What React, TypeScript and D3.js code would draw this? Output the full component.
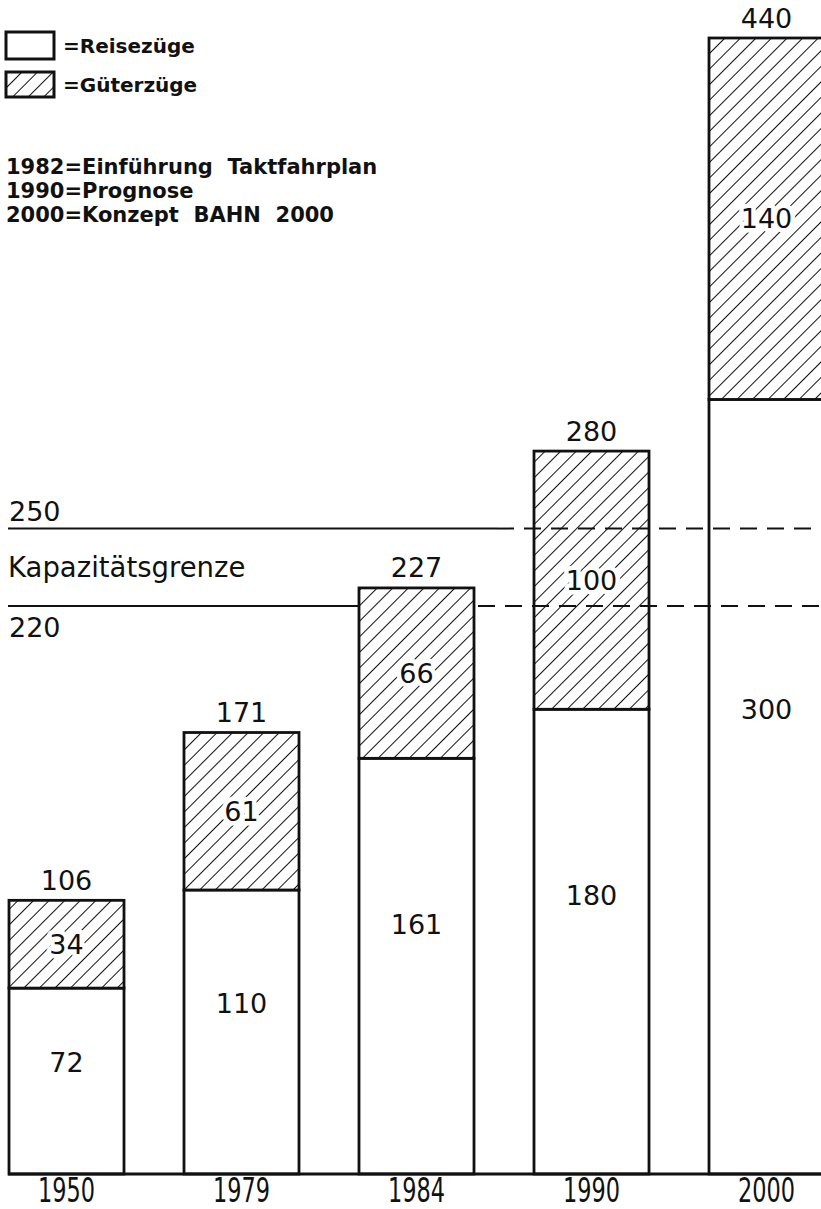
import React from "react";
import * as d3 from "d3";

const years = ["1950", "1979", "1984", "1990", "2000"];
const reisezuege = [72, 110, 161, 180, 300];
const gueterzuege = [34, 61, 66, 100, 140];
const totals = [106, 171, 227, 280, 440];
const capacityLines = [250, 220];
const legendNotes = [
  "1982=Einführung  Taktfahrplan",
  "1990=Prognose",
  "2000=Konzept  BAHN  2000",
];

const W = 821;
const H = 1209;
const FONT = "'DejaVu Sans', sans-serif";

export default function App() {
  const x = d3.scaleBand<string>().domain(years).range([9, 824]).paddingInner(60 / 175).paddingOuter(0);
  const y = d3.scaleLinear().domain([0, 440]).range([1174, 38]);
  const bw = x.bandwidth();

  const stack = d3.stack<number>().keys(["r", "g"]).value((i, k) => (k === "r" ? reisezuege[i] : gueterzuege[i]));
  const series = stack(years.map((_, i) => i));

  const lbl = (t: string, cx: number, cy: number, halo = false) => (
    <text
      x={cx}
      y={cy}
      textAnchor="middle"
      dominantBaseline="central"
      fontFamily={FONT}
      fontSize={27}
      fill="#111"
      stroke={halo ? "#fff" : "none"}
      strokeWidth={halo ? 9 : 0}
      paintOrder="stroke"
      strokeLinejoin="round"
    >
      {t}
    </text>
  );

  const y250 = y(capacityLines[0]);
  const y220 = y(capacityLines[1]);

  return (
    <svg width={W} height={H} style={{ position: "absolute", left: 0, top: 0, background: "#fff" }}>
      <defs>
        <pattern id="hatch" patternUnits="userSpaceOnUse" width={11} height={11} patternTransform="rotate(45)">
          <rect width={11} height={11} fill="#fff" />
          <line x1={0} y1={0} x2={0} y2={11} stroke="#111" strokeWidth={2} />
        </pattern>
      </defs>
      <rect width={W} height={H} fill="#fff" />

      {/* legend */}
      <rect x={6} y={32} width={48} height={27} fill="#fff" stroke="#111" strokeWidth={3} />
      <text x={63} y={53} fontFamily={FONT} fontWeight="bold" fontSize={20} fill="#111">=Reisezüge</text>
      <rect x={6} y={72} width={48} height={25} fill="url(#hatch)" stroke="#111" strokeWidth={3} />
      <text x={63} y={92} fontFamily={FONT} fontWeight="bold" fontSize={20} fill="#111">=Güterzüge</text>
      {legendNotes.map((t, i) => (
        <text key={t} x={6} y={174 + i * 24} fontFamily={FONT} fontWeight="bold" fontSize={21} fill="#111" style={{ whiteSpace: "pre" }}>
          {t}
        </text>
      ))}

      {/* capacity lines */}
      <line x1={8} x2={497} y1={y250} y2={y250} stroke="#111" strokeWidth={2} />
      <line x1={8} x2={362} y1={y220} y2={y220} stroke="#111" strokeWidth={2} />
      <text x={9} y={y250 - 8} fontFamily={FONT} fontSize={27} fill="#111">{capacityLines[0]}</text>
      <text x={8} y={(y250 + y220) / 2 + 10} fontFamily={FONT} fontSize={27.5} fill="#111">Kapazitätsgrenze</text>
      <text x={9} y={y220 + 31} fontFamily={FONT} fontSize={27} fill="#111">{capacityLines[1]}</text>

      {/* bars */}
      {years.map((yr, i) => {
        const x0 = x(yr)!;
        const r = series[0][i];
        const g = series[1][i];
        return (
          <g key={yr}>
            <rect x={x0} y={y(r[1])} width={bw} height={y(r[0]) - y(r[1])} fill="#fff" stroke="#111" strokeWidth={2.8} />
            <rect x={x0} y={y(g[1])} width={bw} height={y(g[0]) - y(g[1])} fill="url(#hatch)" stroke="#111" strokeWidth={2.8} />
          </g>
        );
      })}

      {/* dashed continuation of capacity lines */}
      <line x1={497} x2={W} y1={y250} y2={y250} stroke="#111" strokeWidth={2} strokeDasharray="17 10" />
      <line x1={478} x2={W} y1={y220} y2={y220} stroke="#111" strokeWidth={2} strokeDasharray="17 10" />

      {/* value labels */}
      {years.map((yr, i) => {
        const cx = x(yr)! + bw / 2;
        const g = series[1][i];
        return (
          <g key={"l" + yr}>
            {lbl(String(totals[i]), cx, y(totals[i]) - 20, false)}
            {lbl(String(gueterzuege[i]), cx, y((g[0] + g[1]) / 2), true)}
            {lbl(String(reisezuege[i]), cx, y(reisezuege[i] * 0.6), false)}
          </g>
        );
      })}

      {/* baseline */}
      <line x1={8} x2={W} y1={y(0)} y2={y(0)} stroke="#111" strokeWidth={2.8} />

      {/* year labels */}
      {years.map((yr) => (
        <text
          key={"y" + yr}
          x={x(yr)! + bw / 2}
          y={1201.5}
          textAnchor="middle"
          fontFamily={FONT}
          fontSize={33}
          fill="#111"
          textLength={57}
          lengthAdjust="spacingAndGlyphs"
        >
          {yr}
        </text>
      ))}
    </svg>
  );
}
